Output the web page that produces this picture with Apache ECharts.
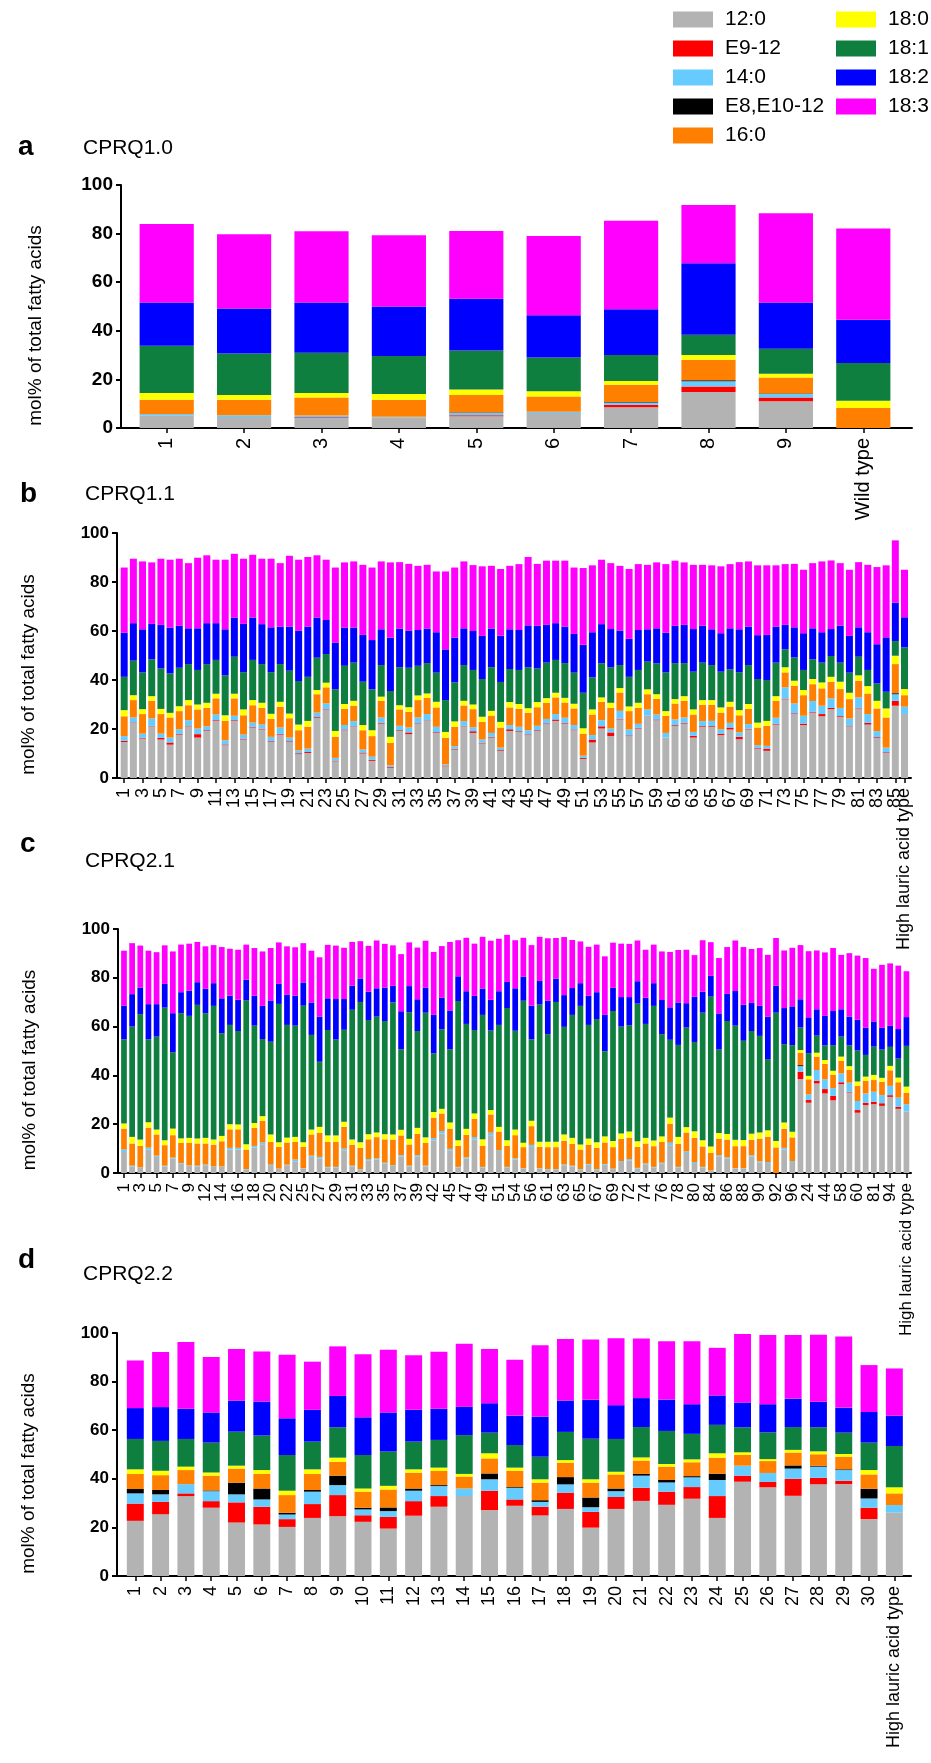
<!DOCTYPE html>
<html><head><meta charset="utf-8">
<script src="https://cdn.jsdelivr.net/npm/echarts/dist/echarts.min.js"></script>
<style>html,body{margin:0;padding:0;background:#fff}#c{width:931px;height:1763px}</style>
</head><body><div id="c"></div>
<script>
const FONT = "'Liberation Sans', Arial, Helvetica, sans-serif";
const SERIES_NAMES = ['12:0','E9-12','14:0','E8,E10-12','16:0','18:0','18:1','18:2','18:3'];
const COLORS = ['#b3b3b3','#ff0000','#66ccff','#000000','#ff8000','#ffff00','#0f7f40','#0000ff','#ff00ff'];
const Y_NAME = 'mol% of total fatty acids';

// ---------- panel a : CPRQ1.0 ----------
const A_CATS = ['1','2','3','4','5','6','7','8','9','Wild type'];
const A_1200 = [5.2,4.5,4.1,4.4,4.8,6.2,8.5,14.8,11.0,0];
const A_E912 = [0,0,0.3,0,0.4,0,1.1,2.3,1.6,0];
const A_1400 = [0.6,0.7,0.7,0.2,1.0,0.5,0.9,2.1,1.4,0];
const A_E8E10 = [0,0,0,0,0.2,0,0.2,0.4,0.2,0];
const A_1600 = [5.8,6.4,7.5,7.0,7.2,6.3,7.1,8.5,6.6,8.2];
const A_1800 = [2.8,2.0,1.8,2.4,2.2,2.1,1.5,1.9,1.5,3.0];
const A_1801 = [19.4,17.1,16.6,15.6,16.1,13.9,10.7,8.4,10.3,15.5];
const A_1802 = [17.8,18.5,20.6,20.4,21.3,17.4,18.9,29.4,19.0,17.8];
const A_1803 = [32.4,30.5,29.4,29.3,27.9,32.6,36.4,24.0,36.8,37.6];

// ---------- panel b : CPRQ1.1 ----------
const B_CATS = ['1','2','3','4','5','6','7','8','9','10','11','12','13','14','15','16','17','18','19','20','21','22','23','24','25','26','27','28','29','30','31','32','33','34','35','36','37','38','39','40','41','42','43','44','45','46','47','48','49','50','51','52','53','54','55','56','57','58','59','60','61','62','63','64','65','66','67','68','69','70','71','72','73','74','75','76','77','78','79','80','81','82','83','84','85','High lauric acid type'];
const B_1200 = [14.7,22.5,16.1,21.1,15.7,13.6,17.7,21.1,16.5,19.2, 23.3,13.4,23.3,15.7,20.6,19.8,14.7,17.7,14.7,9.7, 10.2,24.6,28.0,6.8,19.5,20.9,10.0,7.0,22.2,4.2, 19.2,17.9,22.2,23.3,18.4,4.8,11.6,21.1,18.4,14.1, 16.5,11.1,19.2,18.8,17.5,19.2,22.0,23.3,22.2,19.5, 7.8,14.5,20.2,17.1,23.9,17.1,20.2,25.4,23.6,16.5, 21.3,22.2,16.5,20.9,20.9,17.5,19.8,15.8,19.8,12.0, 11.1,21.8,32.1,26.1,21.6,26.7,25.2,28.1,25.0,21.1, 28.4,21.8,16.4,10.2,29.5,26.1];
const B_E912 = [0.5,0.2,0.3,0.2,0.7,0.9,0.3,0.3,1.4,0.3, 0.3,0.3,0.3,0.3,0.3,0.3,0.3,0.3,0.3,0.4, 0.4,0.3,0.2,0.3,0.3,0.2,0.4,0.4,0.3,0.3, 0.3,0.7,0.2,0.2,0.3,0.3,0.3,0.2,0.7,0.3, 0.3,0.3,0.7,0.3,0.3,0.3,0.3,0.6,0.3,0.3, 0.4,1.2,0.9,1.5,0.3,0.3,0.3,0,0.3,0, 0.3,0.3,0.7,0.3,0.3,0.6,0.8,1.0,0.3,0.3, 0.9,0.3,0.3,0.3,0.6,0.3,0.9,0.5,0.3,0.3, 0.3,0.7,0.3,0.3,2.0,0];
const B_1400 = [1.9,2.0,1.7,3.0,1.7,2.0,1.9,2.2,2.3,1.6, 2.3,1.7,1.8,1.7,1.7,1.7,1.8,2.6,1.5,1.2, 1.4,1.8,2.2,1.1,1.8,2.1,1.2,1.3,2.2,0.7, 1.8,2.0,2.3,2.6,2.2,0.5,1.1,1.9,1.6,1.3, 1.6,1.0,1.7,1.8,1.7,1.8,1.8,2.2,2.1,1.8, 0.9,1.8,2.5,1.6,3.2,2.4,1.6,2.6,2.0,1.9, 2.3,2.2,1.6,2.0,2.1,1.8,1.9,1.8,1.9,1.1, 1.1,2.5,4.6,4.0,3.2,4.4,3.4,3.9,3.3,2.9, 4.2,3.6,2.4,1.9,2.7,3.0];
const B_E8E10 = [0,0,0,0,0,0,0,0,0,0, 0,0,0,0,0,0,0,0,0,0, 0,0,0,0,0,0,0,0,0,0, 0,0,0,0,0,0,0,0,0,0, 0,0,0,0,0,0,0,0,0,0, 0,0,0,0,0,0,0,0,0,0, 0,0,0,0,0,0,0,0,0,0, 0,0,0,0,0,0,0,0,0,0, 0,0,0,0,0.4,0];
const B_1600 = [8.1,7.1,8.0,7.2,8.0,8.2,7.4,6.1,7.8,7.5, 6.6,7.9,7.1,7.9,7.1,6.8,7.3,8.5,7.9,8.2, 8.9,7.5,6.6,8.6,6.6,6.3,7.9,8.4,6.8,9.1, 6.7,6.4,7.1,6.6,7.9,10.8,7.9,6.4,7.4,7.2, 7.1,8.2,7.2,7.3,7.1,7.6,6.6,6.8,6.2,6.8, 9.0,8.4,7.5,8.4,7.5,7.5,6.5,6.2,6.4,7.0, 6.5,6.8,7.1,6.7,6.6,6.8,6.6,7.0,6.2,7.2, 8.2,6.9,6.1,7.3,8.4,6.9,7.1,6.8,7.7,7.9, 6.8,8.4,9.3,12.3,11.9,4.7];
const B_1800 = [2.5,2.0,2.0,1.9,2.1,1.9,2.0,2.1,2.0,2.1, 1.9,2.3,1.9,2.4,2.1,2.1,2.1,2.0,1.9,2.3, 2.4,1.7,1.9,2.4,2.0,2.0,2.1,2.4,1.7,2.5, 1.7,1.9,1.9,1.8,2.3,2.4,2.2,1.9,1.9,2.1, 1.9,2.3,2.2,2.0,1.9,2.1,1.9,1.9,1.9,1.9, 2.2,2.1,1.8,2.1,1.8,1.9,2.1,2.0,1.9,1.9, 1.8,1.9,2.1,1.9,1.9,2.1,2.0,2.1,2.0,2.0, 2.0,1.9,2.1,2.0,2.1,2.1,2.4,2.0,3.0,2.6, 2.2,3.0,3.1,3.7,3.4,2.5];
const B_1801 = [13.6,14.1,15.0,15.0,16.5,16.1,15.7,14.7,14.1,15.8, 13.8,16.3,15.1,15.2,16.4,15.8,17.0,15.4,17.5,17.8, 18.0,13.2,11.7,17.0,15.6,15.6,17.7,16.7,12.9,18.7, 15.5,16.1,12.1,12.4,11.9,13.0,15.9,14.6,14.1,15.4, 17.8,16.3,13.5,13.9,16.7,13.7,14.5,13.4,14.2,12.7, 14.5,13.1,13.9,14.5,9.4,12.1,13.4,11.3,12.6,15.8, 14.7,13.5,15.4,15.3,14.3,14.6,13.2,15.5,15.9,17.8, 16.7,13.7,7.3,9.5,8.2,8.0,8.1,8.5,7.8,8.2, 7.6,6.6,7.1,6.8,6.0,17.0];
const B_1802 = [18.0,15.3,17.6,14.5,17.8,18.7,17.1,14.6,17.0,16.7, 15.0,18.8,16.0,19.7,17.3,16.3,18.3,15.3,18.0,20.6, 20.5,16.4,13.9,19.1,15.6,14.3,19.1,20.1,14.6,21.8, 15.8,15.2,14.6,14.1,16.5,20.7,18.3,15.0,15.9,17.6, 15.8,18.9,16.2,16.3,17.1,17.4,15.4,15.0,14.9,15.8, 19.6,18.4,16.0,15.6,14.1,15.5,16.3,13.2,14.3,16.2, 15.2,15.6,17.4,15.1,14.6,15.7,16.8,17.5,15.7,17.9, 18.4,14.7,10.0,12.3,15.0,12.7,12.4,11.0,15.1,15.0, 12.0,15.4,16.0,22.2,15.7,12.3];
const B_1803 = [26.6,26.3,27.7,25.1,27.0,27.7,27.4,26.6,28.8,27.7, 25.9,28.4,26.0,26.6,25.6,26.7,28.0,25.9,28.9,28.9, 28.4,25.4,24.6,30.6,26.6,27.0,28.6,29.6,27.7,30.7, 27.1,27.2,26.2,26.0,24.8,31.8,28.6,27.3,26.9,28.4, 25.6,27.2,25.9,26.9,27.9,25.3,26.2,25.5,26.9,27.1, 31.3,27.3,26.3,26.9,26.4,28.5,26.9,26.3,26.9,28.0, 26.6,25.5,26.2,24.8,26.1,27.3,26.2,27.4,26.6,28.5, 28.4,25.0,24.8,25.9,25.9,26.6,28.9,28.0,25.5,27.0, 26.6,27.5,31.5,29.4,25.4,19.4];

// ---------- panel c : CPRQ2.1 ----------
const C_CATS = ['1','2','3','4','5','6','7','8','9','10','12','13','14','15','16','17','18','19','20','21','22','23','25','26','27','28','29','30','31','32','33','34','35','36','37','38','39','40','42','43','45','46','47','48','49','50','51','52','54','55','56','57','61','62','63','64','65','66','67','68','69','70','72','73','74','75','76','77','78','79','80','82','84','85','86','87','88','89','90','91','92','93','96','11','24','41','44','53','58','59','60','71','81','83','94','95','High lauric acid type'];
const C_1200 = [8.6,2.7,2.1,9.6,6.6,2.7,5.9,3.8,2.9,2.7, 3.2,2.5,2.5,9.6,9.6,1.4,10.4,11.8,2.9,1.8, 3.2,4.8,1.8,6.6,5.9, 2.2,2.2,9.3,2.7,1.4, 5.2,5.5,3.8,2.9,6.8,2.7,6.8,2.7,13.4,16.2, 9.3,2.2,5.9,13.7,2.2,15.5,8.6,2.2,5.5,1.8, 10.7,1.8,1.4,1.4,3.2,2.7,1.4,3.4,1.4,3.4, 1.6,4.5,5.2,1.9,3.6,2.2,3.8,11.4,2.2,8.2, 4.1,2.2,1.1,6.8,5.9,1.8,1.8,6.8,4.4,4.1, 0,9.6,4.5, 38.5,28.8,36.7,32.6,29.8,36.4,33.0,24.7,27.8,28.2,27.5,31.2,26.3,25.2];
const C_E912 = [0,0,0,0,0,0,0,0,0,0, 0,0,0,0,0,0,0,0,0,0, 0,0,0,0,0, 0,0,0,0,0, 0,0,0,0,0,0,0,0,0,0, 0,0,0,0,0,0,0,0,0,0, 0,0,0,0,0,0,0,0,0,0, 0,0,0,0,0,0,0,0,0,0, 0,0,0,0,0,0,0,0,0,0, 0,0,0, 3.0,1.1,1.1,1.8,1.8,0.8,0.3,1.1,1.0,1.0,1.1,0.7,0.8,0];
const C_1400 = [1.0,0.3,0.2,0.8,0.5,0.3,0.4,0.3,0.2,0.3, 0.3,0.2,0.2,0.7,0.7,0.2,0.7,0.7,0.5,0, 0.2,0.7,0.2,0.5,0.7, 0.3,0.3,0.7,0.3,0.2, 0.5,0.5,0.4,0.3,0.5,0.3,0.5,0.3,0.9,1.0, 0.6,0.3,0.5,1.0,0.3,1.0,0.6,0.3,0.5,0.2, 0.8,0.2,0.2,0.2,0.3,0.3,0.2,0.3,0.2,0.3, 0.2,0.4,0.5,0.2,0.3,0.3,0.4,1.0,0.3,0.6, 0.4,0.3,0,0.5,0.5,0.2,0.2,0.5,0.4,0.4, 0,0.7,0.4, 2.3,2.3,4.4,4.0,3.2,3.6,3.7,3.7,3.8,4.1,3.3,3.8,3.8,3.0];
const C_E8E10 = [0,0,0,0,0,0,0,0,0,0, 0,0,0,0,0,0,0,0,0,0, 0,0,0,0,0, 0,0,0,0,0, 0,0,0,0,0,0,0,0,0,0, 0,0,0,0,0,0,0,0,0,0, 0,0,0,0,0,0,0,0,0,0, 0,0,0,0,0,0,0,0,0,0, 0,0,0,0,0,0,0,0,0,0, 0,0,0, 0.4,0,0,0,0,0,0,0,0,0,0,0,0,0];
const C_1600 = [8.6,9.1,8.8,8.2,8.7,8.4,9.2,8.2,9.2,9.1, 8.6,8.9,10.3,7.6,7.6,8.0,7.4,8.9,9.3,8.9, 9.1,7.2,8.7,8.7,9.8, 10.2,10.2,8.9,8.6,8.7, 8.1,8.7,9.6,10.5,8.1,8.7,8.7,9.3,8.4,7.2, 8.3,8.6,9.2,7.5,8.7,7.5,7.8,8.7,9.5,8.6, 7.7,8.7,9.0,9.0,9.7,8.9,8.0,7.9,8.7,8.8, 8.8,9.1,8.8,8.6,8.2,8.5,8.5,7.8,9.4,7.8, 9.9,8.4,7.1,6.8,7.3,9.0,9.0,6.3,9.3,10.4, 10.5,7.8,9.7, 5.1,6.2,5.5,6.3,5.5,5.1,5.2,6.2,5.1,4.8,5.5,6.4,6.3,4.7];
const C_1800 = [2.1,2.7,2.6,2.2,2.0,2.0,2.7,1.9,2.1,2.0, 2.3,2.1,2.2,2.1,2.0,2.2,2.0,1.9,3.1,1.9, 2.0,2.1,1.9,2.0,2.5, 2.7,2.7,2.1,2.1,2.3, 2.1,1.9,2.1,2.1,2.3,2.3,2.5,2.3,2.3,1.9, 2.5,2.3,2.5,2.2,2.6,1.8,1.9,2.2,2.3,1.8, 2.2,2.1,2.2,2.2,2.6,2.5,2.1,2.5,2.3,2.5, 2.5,2.2,2.5,2.3,2.3,2.3,2.3,2.5,2.9,2.2, 2.7,2.5,2.7,2.3,2.3,2.6,2.5,2.5,2.5,2.6, 2.6,2.6,2.3, 1.1,1.4,1.6,1.6,1.6,1.8,1.6,1.8,1.8,2.1,1.6,1.8,1.9,2.5];
const C_1801 = [34.5,45.2,51.4,34.0,38.1,54.4,31.3,51.3,50.0,54.8, 51.1,54.8,42.1,40.7,38.3,58.9,39.9,31.6,38.0,56.7, 46.2,45.6,56.0,38.8,26.7, 43.2,39.3,37.7,53.2,57.5, 46.8,47.5,46.4,54.1,33.0,51.9,39.7,51.1,24.0,32.6, 30.0,57.1,43.0,34.2,51.0,32.6,41.8,54.2,40.5,58.2, 33.4,56.2,44.1,57.3,44.1,50.4,56.8,46.6,50.5,34.9, 53.3,43.8,43.6,56.4,46.7,55.2,41.9,31.9,37.7,40.8, 36.6,52.3,61.4,34.2,46.3,46.8,40.7,42.1,39.6,29.2, 52.6,32.1,35.5, 9.2,9.3,7.0,6.0,10.5,8.2,8.5,12.7,8.9,11.6,11.6,7.8,7.8,16.7];
const C_1802 = [13.8,13.3,10.9,14.4,13.3,9.7,16.0,8.6,10.3,9.3, 10.0,9.3,14.3,12.0,12.8,8.5,12.3,13.6,16.9,8.2, 12.3,12.3,9.5,13.3,18.5, 13.0,16.6,12.6,9.9,9.6, 11.6,11.6,13.7,6.8,15.6,10.7,13.0,10.3,15.8,12.9, 15.9,10.1,13.4,14.0,10.8,12.6,13.8,10.7,17.4,9.9, 13.8,9.7,13.7,9.6,13.0,11.0,9.3,11.9,11.0,14.9, 9.5,12.1,11.5,9.2,10.7,9.3,14.0,13.3,17.4,10.0, 18.6,8.6,8.5,14.8,11.1,14.2,14.8,11.5,12.3,17.4, 11.0,14.8,15.9, 11.6,14.7,10.8,12.1,14.0,11.2,11.8,12.6,11.2,10.3,8.9,8.6,12.1,11.8];
const C_1803 = [22.5,20.9,17.2,21.9,21.3,15.8,25.3,19.5,19.3,16.5, 17.4,15.6,21.0,19.2,20.5,14.4,19.5,22.3,21.5,17.0, 19.9,19.8,16.1,21.2,24.3, 21.9,21.9,21.0,17.9,15.3, 18.8,19.6,17.9,16.6,23.4,17.9,21.2,19.2,25.8,21.2, 28.1,14.8,21.9,21.4,21.2,24.2,21.5,19.3,19.7,15.9, 24.8,18.1,25.6,16.6,23.8,19.7,17.1,20.1,19.5,24.0, 18.5,21.9,21.8,16.7,19.7,15.8,19.9,22.7,21.5,21.9, 17.0,21.1,13.8,22.7,19.2,20.7,23.6,22.1,23.7,25.3, 19.6,23.6,24.0, 22.2,27.1,24.1,26.0,25.8,22.3,26.0,26.3,28.5,21.6,25.8,25.6,26.0,18.8];

// ---------- panel d : CPRQ2.2 ----------
const D_CATS = ['1','2','3','4','5','6','7','8','9','10','11','12','13','14','15','16','17','18','19','20','21','22','23','24','25','26','27','28','29','30','High lauric acid type'];
const D_1200 = [22.7,25.4,32.9,28.1,22.0,21.2,20.2,23.9,24.6,22.3, 19.5,24.8,28.5,32.9,27.1,28.9,24.9,27.6,19.9,27.6, 30.9,29.3,31.8,23.9,38.8,36.5,33.0,37.7,37.8,23.4, 26.1];
const D_E912 = [7.1,5.1,1.1,2.7,8.3,7.3,3.2,5.7,8.7,2.7, 4.8,6.0,4.4,0,8.0,2.6,3.6,6.7,6.5,4.9, 5.4,5.4,4.8,9.0,2.5,2.2,7.0,2.7,1.4,4.7, 0];
const D_1400 = [4.2,3.1,3.8,4.1,3.3,3.0,1.9,5.1,4.1,2.4, 2.4,4.3,4.1,3.1,4.7,4.8,2.0,3.4,1.9,2.4, 5.0,3.8,4.0,6.6,4.1,3.7,4.2,4.6,4.4,3.8, 3.1];
const D_E8E10 = [1.8,1.8,0,0.3,4.8,4.5,0.7,0.7,3.9,0.7, 1.5,0.9,0.4,0,2.4,0.3,0.7,3.0,4.0,1.1, 0.7,1.0,0.5,2.6,0,0,1.3,0.3,0.3,4.0, 0];
const D_1600 = [6.2,6.1,5.8,6.1,5.8,6.0,7.3,6.6,5.7,6.6, 7.4,6.5,5.8,4.9,6.2,6.7,7.2,5.9,6.1,5.8, 5.5,5.5,5.7,6.6,4.4,4.9,5.3,4.8,5.2,5.9, 4.8];
const D_1800 = [1.9,1.8,1.4,1.3,1.2,1.6,1.8,1.9,1.7,1.3, 1.5,1.4,1.4,1.1,2.1,1.3,1.4,1.1,1.4,1.1, 1.3,1.1,1.2,1.8,1.1,0.8,1.1,1.2,1.1,1.8, 2.5];
const D_1801 = [12.5,12.3,11.4,12.3,14.0,14.2,14.7,11.4,12.5,13.8, 14.1,11.4,11.4,16.0,8.5,9.3,9.3,11.6,16.7,13.5, 12.5,13.6,10.5,11.7,10.3,11.0,9.4,9.9,8.8,11.3, 17.0];
const D_1802 = [12.7,13.9,12.4,12.4,12.8,14.0,15.1,13.1,12.9,15.5, 16.1,13.1,12.8,11.7,12.1,12.1,16.5,12.9,16.0,13.9, 11.9,12.9,12.2,12.1,10.2,11.6,11.7,10.5,10.3,12.6, 12.5];
const D_1803 = [19.6,22.7,27.5,22.8,21.2,20.6,26.2,19.8,20.4,26.0, 25.8,22.4,23.5,25.9,22.3,23.0,29.4,25.3,24.8,27.5, 24.5,24.0,25.9,19.6,28.2,28.5,26.2,27.6,29.3,19.3, 19.4];

// ---------- layout ----------
const PANELS = [
  {letter:'a', sub:'CPRQ1.0', cats:A_CATS, vals:[A_1200,A_E912,A_1400,A_E8E10,A_1600,A_1800,A_1801,A_1802,A_1803],
   axisL:121, axisR:912, barL:128, barR:902, top:185, bot:428, gap:'30%', show:null, xFont:20, yFont:19, nameGap:76,
   letterTop:128, letterLeft:13, subTop:133, subLeft:78},
  {letter:'b', sub:'CPRQ1.1', cats:B_CATS, vals:[B_1200,B_E912,B_1400,B_E8E10,B_1600,B_1800,B_1801,B_1802,B_1803],
   axisL:117, axisR:911, barL:119.6, barR:909.1, top:533, bot:778, gap:'24%', show:(i)=> i%2===0 || i===85, xFont:18, yFont:17, nameGap:79,
   letterTop:475, letterLeft:15, subTop:479, subLeft:80},
  {letter:'c', sub:'CPRQ2.1', cats:C_CATS, vals:[C_1200,C_E912,C_1400,C_E8E10,C_1600,C_1800,C_1801,C_1802,C_1803],
   axisL:118, axisR:911, barL:119.9, barR:910.5, top:929, bot:1173, gap:'30%', show:(i)=> i%2===0, xFont:17, yFont:17, nameGap:79,
   letterTop:825, letterLeft:15, subTop:846, subLeft:80},
  {letter:'d', sub:'CPRQ2.2', cats:D_CATS, vals:[D_1200,D_E912,D_1400,D_E8E10,D_1600,D_1800,D_1801,D_1802,D_1803],
   axisL:117, axisR:911, barL:122.65, barR:907, top:1333, bot:1576, gap:'33%', show:null, xFont:18, yFont:17, nameGap:79,
   letterTop:1241, letterLeft:13, subTop:1259, subLeft:78}
];

const grid = [], xAxis = [], yAxis = [], series = [], title = [];
PANELS.forEach((p, i) => {
  const gA = 2*i, gB = 2*i+1;
  grid.push({left:p.axisL, width:p.axisR-p.axisL, top:p.top, height:p.bot-p.top, containLabel:false, outerBoundsMode:'none'});
  grid.push({left:p.barL, width:p.barR-p.barL, top:p.top, height:p.bot-p.top, containLabel:false, outerBoundsMode:'none'});
  xAxis.push({type:'value', gridIndex:gA, min:0, max:1, axisLine:{show:true, onZero:false, lineStyle:{color:'#000', width:2}},
    axisTick:{show:false}, axisLabel:{show:false}, splitLine:{show:false}});
  yAxis.push({type:'value', gridIndex:gA, min:0, max:100, interval:20,
    axisLine:{show:true, lineStyle:{color:'#000', width:2}},
    axisTick:{show:true, inside:false, length:5, lineStyle:{color:'#000', width:2}},
    axisLabel:{show:true, color:'#000', fontWeight:'bold', fontSize:p.yFont, fontFamily:FONT, margin:8},
    splitLine:{show:false},
    name:Y_NAME, nameLocation:'middle', nameGap:p.nameGap, nameRotate:90,
    nameTextStyle:{color:'#000', fontSize:19, fontFamily:FONT, padding:[0,38,0,0]}});
  const showFn = p.show ? p.show : () => true;
  xAxis.push({type:'category', gridIndex:gB, data:p.cats, boundaryGap:true,
    axisLine:{show:false},
    axisTick:{show:true, alignWithLabel:true, length:5, interval:(idx) => showFn(idx), lineStyle:{color:'#000', width:1.5}},
    axisLabel:{show:true, rotate:90, interval:0, margin:10, color:'#000', fontSize:p.xFont, fontFamily:FONT,
      hideOverlap:false, formatter:(v, idx) => showFn(idx) ? v : ''},
    splitLine:{show:false}});
  yAxis.push({type:'value', gridIndex:gB, min:0, max:100, show:false, splitLine:{show:false}});
  p.vals.forEach((arr, j) => {
    series.push({type:'bar', name:SERIES_NAMES[j], xAxisIndex:gB, yAxisIndex:gB, stack:'s'+i,
      data:arr, barCategoryGap:p.gap, itemStyle:{color:COLORS[j]}, silent:true});
  });
  title.push({text:p.letter, left:p.letterLeft, top:p.letterTop, textStyle:{fontSize:28, fontWeight:'bold', color:'#000', fontFamily:FONT}});
  title.push({text:p.sub, left:p.subLeft, top:p.subTop, textStyle:{fontSize:21, fontWeight:'normal', color:'#000', fontFamily:FONT}});
});

const legendBase = {orient:'vertical', icon:'rect', itemWidth:40, itemHeight:16, itemGap:8, selectedMode:false,
  textStyle:{color:'#000', fontSize:21, fontFamily:FONT, padding:[0,0,0,7]}};
const legend = [
  Object.assign({}, legendBase, {left:668, top:4, data:SERIES_NAMES.slice(0,5)}),
  Object.assign({}, legendBase, {left:831, top:4, data:SERIES_NAMES.slice(5)})
];

const chart = echarts.init(document.getElementById('c'), null, {renderer:'canvas', width:931, height:1763});
chart.setOption({animation:false, backgroundColor:'#fff', title, legend, grid, xAxis, yAxis, series});
</script>
</body></html>
